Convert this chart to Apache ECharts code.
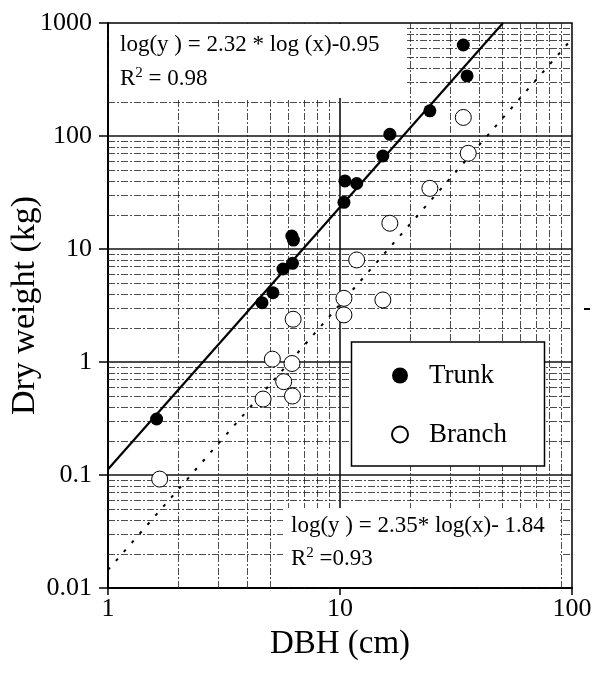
<!DOCTYPE html>
<html>
<head>
<meta charset="UTF-8">
<title>DBH vs dry weight</title>
<script src="https://cdn.jsdelivr.net/npm/echarts@6/dist/echarts.min.js"></script>
<style>
  html, body { margin: 0; padding: 0; background: #fff; }
  #main { width: 594px; height: 673px; }
</style>
</head>
<body>
<div id="main"></div>
<script>
// measured points
var trunkDBH    = [1.62, 4.61, 5.14, 5.68, 6.24, 6.2, 6.3, 10.4, 10.5, 11.8, 15.3, 16.4, 24.4, 34.0, 35.3];
var trunkWeight = [0.313, 3.35, 4.1, 6.65, 7.47, 13.0, 12.0, 25.9, 40.0, 38.0, 66.5, 103.5, 167, 639, 340];
var branchDBH    = [1.67, 4.66, 5.11, 5.72, 6.21, 6.24, 6.28, 10.4, 10.4, 11.8, 15.3, 16.4, 24.4, 34.0, 35.7];
var branchWeight = [0.092, 0.47, 1.06, 0.67, 0.97, 0.50, 2.39, 2.61, 3.66, 8.0, 3.54, 16.9, 34.4, 146, 70.3];

// fitted equations printed on the chart: log(y) = a*log(x) + b
var trunkFit  = [2.32, -0.95];
var branchFit = [2.35, -1.84];

var xRange = [1, 100];
var yRange = [0.01, 1000];

function zip(xs, ys) {
  var out = [];
  for (var i = 0; i < xs.length; i++) out.push([xs[i], ys[i]]);
  return out;
}
// end points of a fit line, clipped to the plot box
function fitLine(f) {
  var x0 = xRange[0];
  var y0 = Math.pow(10, f[0] * Math.log10(x0) + f[1]);
  if (y0 < yRange[0]) { x0 = Math.pow(10, (Math.log10(yRange[0]) - f[1]) / f[0]); y0 = yRange[0]; }
  var x1 = xRange[1];
  var y1 = Math.pow(10, f[0] * Math.log10(x1) + f[1]);
  if (y1 > yRange[1]) { x1 = Math.pow(10, (Math.log10(yRange[1]) - f[1]) / f[0]); y1 = yRange[1]; }
  return [[x0, y0], [x1, y1]];
}

// log grid lines
var majorLines = [], minorLines = [];
for (var e = 0; e <= 2; e++) {
  for (var m = 1; m <= 9; m++) {
    var v = m * Math.pow(10, e);
    if (v <= xRange[0] || v >= xRange[1]) continue;
    var seg = {coords: [[v, yRange[0]], [v, yRange[1]]]};
    (m === 1 ? majorLines : minorLines).push(seg);
  }
}
for (var e2 = -2; e2 <= 3; e2++) {
  for (var m2 = 1; m2 <= 9; m2++) {
    var w = m2 * Math.pow(10, e2);
    if (w <= yRange[0] || w >= yRange[1]) continue;
    var seg2 = {coords: [[xRange[0], w], [xRange[1], w]]};
    (m2 === 1 ? majorLines : minorLines).push(seg2);
  }
}

var serif = 'Liberation Serif';
var eqRich = {
  t: {fontFamily: serif, fontSize: 23, color: '#000'},
  sup: {fontFamily: serif, fontSize: 15, color: '#000', verticalAlign: 'top', padding: [0, 0, 10, 0]}
};
var chart = echarts.init(document.getElementById('main'));

chart.setOption({
  backgroundColor: '#fff',
  animation: false,
  grid: {
    left: 108, right: 22, top: 23, bottom: 85,
    outerBoundsMode: 'none', containLabel: false,
    show: true, borderColor: '#000', borderWidth: 1.5, backgroundColor: 'transparent'
  },
  xAxis: {
    type: 'log', logBase: 10, min: xRange[0], max: xRange[1], interval: 1,
    name: 'DBH (cm)', nameLocation: 'middle', nameGap: 40, nameMoveOverlap: false,
    nameTextStyle: {fontFamily: serif, fontSize: 33, color: '#000'},
    axisLine: {show: true, lineStyle: {color: '#000', width: 2}},
    axisTick: {show: true, inside: false, length: 7, lineStyle: {color: '#000', width: 1.5}},
    axisLabel: {fontFamily: serif, fontSize: 26, color: '#000', margin: 8},
    splitLine: {show: false}
  },
  yAxis: {
    type: 'log', logBase: 10, min: yRange[0], max: yRange[1], interval: 1,
    name: 'Dry weight (kg)', nameLocation: 'middle', nameGap: 66, nameMoveOverlap: false,
    nameTextStyle: {fontFamily: serif, fontSize: 34, color: '#000'},
    axisLine: {show: true, lineStyle: {color: '#000', width: 2}},
    axisTick: {show: true, inside: false, length: 9, lineStyle: {color: '#000', width: 1.5}},
    axisLabel: {
      fontFamily: serif, fontSize: 26, color: '#000', margin: 16,
      formatter: function (v) { return String(+v.toPrecision(3)); }
    },
    splitLine: {show: false}
  },
  legend: {
    orient: 'vertical', left: 386, top: 357, z: 20,
    itemGap: 32, itemWidth: 16, itemHeight: 16,
    textStyle: {fontFamily: serif, fontSize: 27, color: '#000', padding: [0, 0, 0, 16]},
    data: ['Trunk', 'Branch']
  },
  graphic: [
    {type: 'rect', z: 10, shape: {x: 109, y: 24, width: 296, height: 74}, style: {fill: '#fff'}},
    {type: 'rect', z: 10, shape: {x: 283, y: 508, width: 277, height: 79}, style: {fill: '#fff'}},
    {type: 'rect', z: 10, shape: {x: 351.5, y: 342, width: 193, height: 124},
      style: {fill: '#fff', stroke: '#000', lineWidth: 1.5}},
    {type: 'text', z: 11, left: 120, top: 33,
      style: {text: 'log(y ) = 2.32 * log (x)-0.95', font: '23px "Liberation Serif"', fill: '#000'}},
    {type: 'text', z: 11, left: 120, top: 66,
      style: {text: '{t|R}{sup|2}{t| = 0.98}', rich: eqRich}},
    {type: 'text', z: 11, left: 291, top: 514,
      style: {text: 'log(y ) = 2.35* log(x)- 1.84', font: '23px "Liberation Serif"', fill: '#000'}},
    {type: 'text', z: 11, left: 291, top: 546,
      style: {text: '{t|R}{sup|2}{t| =0.93}', rich: eqRich}},
    {type: 'rect', z: 11, shape: {x: 584, y: 308, width: 6, height: 2}, style: {fill: '#000'}}
  ],
  series: [
    {
      type: 'lines', coordinateSystem: 'cartesian2d', z: 1, silent: true,
      lineStyle: {color: '#111', width: 1.6, opacity: 1},
      data: majorLines
    },
    {
      type: 'lines', coordinateSystem: 'cartesian2d', z: 1, silent: true,
      lineStyle: {color: '#222', width: 0.9, type: [7, 2, 2, 2], opacity: 0.9},
      data: minorLines
    },
    {
      type: 'line', z: 3, silent: true, symbol: 'none',
      lineStyle: {color: '#000', width: 2.2},
      data: fitLine(trunkFit)
    },
    {
      type: 'line', z: 3, silent: true, symbol: 'none',
      lineStyle: {color: '#000', width: 2, type: [3, 9]},
      data: fitLine(branchFit)
    },
    {
      name: 'Trunk', type: 'scatter', z: 4, symbol: 'circle', symbolSize: 13,
      itemStyle: {color: '#000', opacity: 1},
      data: zip(trunkDBH, trunkWeight)
    },
    {
      name: 'Branch', type: 'scatter', z: 4, symbol: 'circle', symbolSize: 16,
      itemStyle: {color: '#fff', borderColor: '#000', borderWidth: 1, opacity: 1},
      data: zip(branchDBH, branchWeight)
    }
  ]
});
</script>
</body>
</html>
